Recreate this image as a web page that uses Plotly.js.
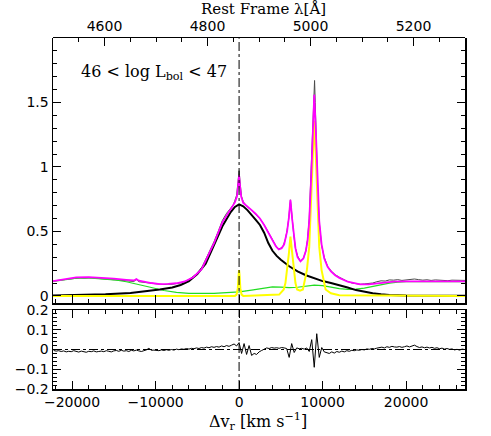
<!DOCTYPE html>
<html>
<head>
<meta charset="utf-8">
<script src="https://cdn.plot.ly/plotly-3.0.1.min.js"></script>
<style>body{margin:0;background:#fff}#plot{width:491px;height:436px}</style>
</head>
<body>
<div id="plot"></div>
<script>
// observed spectrum (velocity km/s, flux)
var obsV = [-22282,-22000,-21500,-21000,-20500,-20000,-19500,-19000,-18500,-18000,-17500,-17000,-16500,-16000,-15500,-15000,-14500,-14000,-13500,-13000,
  -12600,-12300,-12000,-11500,-11000,-10500,-10000,-9500,-9000,-8500,-8000,-7500,-7000,-6500,-6000,-5500,-5000,-4500,-4000,-3500,
  -3000,-2500,-2000,-1500,-1000,-700,-500,-300,-150,0,150,300,500,700,1000,1300,1600,2000,2300,2600,
  3000,3300,3600,4000,4400,4700,5000,5300,5550,5750,5950,6080,6150,6250,6400,6550,6750,7000,7350,7700,
  8000,8200,8400,8640,8820,8960,9040,9120,9250,9400,9600,9880,10200,10600,11000,11500,12000,12500,13000,13500,
  14000,14500,15000,15500,16000,16500,17000,17500,18000,18500,19000,19500,20000,20500,21000,21500,22000,22500,23000,23500,
  24000,24500,25000,25500,26000,26500,27053];
var obsF = [0.112,0.118,0.122,0.126,0.13,0.134,0.137,0.14,0.138,0.142,0.139,0.136,0.133,0.134,0.127,0.125,0.121,0.12,0.116,0.114,
  0.112,0.127,0.11,0.106,0.104,0.098,0.094,0.089,0.088,0.091,0.09,0.096,0.101,0.112,0.127,0.15,0.178,0.215,0.28,0.345,
  0.42,0.5,0.585,0.64,0.685,0.705,0.74,0.78,0.87,0.97,0.86,0.77,0.73,0.71,0.69,0.675,0.655,0.625,0.61,0.59,
  0.552,0.515,0.48,0.432,0.39,0.365,0.37,0.39,0.44,0.51,0.6,0.7,0.745,0.68,0.56,0.47,0.37,0.31,0.27,0.29,
  0.35,0.44,0.6,0.98,1.35,1.6,1.67,1.5,1.18,0.86,0.57,0.39,0.3,0.23,0.195,0.165,0.145,0.127,0.112,0.1,
  0.093,0.09,0.093,0.097,0.1,0.11,0.117,0.115,0.124,0.122,0.126,0.12,0.124,0.126,0.131,0.126,0.122,0.125,0.12,0.124,
  0.122,0.125,0.118,0.122,0.12,0.123,0.12];

// total model
var magV = [-22282,-21000,-19500,-18000,-16500,-15000,-13500,-12600,-12300,-12000,-10500,-9500,-8500,-7500,-6500,-5500,-4500,-4000,-3000,-2000,
  -1500,-1000,-500,-250,-100,0,100,250,500,1000,1500,2000,2500,3000,3500,4000,4400,4750,5100,5400,
  5750,5950,6150,6350,6550,6750,7000,7350,7700,8000,8200,8400,8640,8820,9000,9180,9360,9600,9880,10200,
  10600,11000,11500,12000,13000,14000,14500,15500,16500,17500,18500,20000,22000,24000,27053];
var magF = [0.115,0.13,0.143,0.146,0.141,0.134,0.125,0.12,0.13,0.118,0.1,0.092,0.093,0.098,0.112,0.145,0.205,0.27,0.41,0.57,
  0.625,0.67,0.725,0.77,0.86,0.935,0.86,0.77,0.72,0.695,0.665,0.635,0.6,0.55,0.49,0.43,0.385,0.36,0.37,0.4,
  0.5,0.6,0.745,0.6,0.46,0.37,0.3,0.268,0.29,0.35,0.43,0.58,0.93,1.3,1.56,1.3,0.93,0.58,0.4,0.29,
  0.225,0.19,0.16,0.14,0.11,0.095,0.09,0.09,0.096,0.104,0.11,0.113,0.113,0.112,0.112];

// broad Hbeta component
var broadV = [-22282,-19000,-16000,-13000,-11000,-9500,-8000,-7000,-6000,-5000,-4000,-3000,-2000,-1000,-500,0,500,1000,1500,2000,
  2500,3000,3500,4000,4500,5000,6000,7000,8000,9000,10000,11000,12000,13000,14000,15000,16000,17000,18000,20000,
  23000,27053];
var broadF = [0.003,0.006,0.012,0.022,0.035,0.05,0.065,0.085,0.115,0.17,0.25,0.39,0.54,0.65,0.69,0.71,0.695,0.665,0.63,0.59,
  0.55,0.49,0.41,0.35,0.31,0.28,0.23,0.19,0.16,0.135,0.115,0.1,0.085,0.065,0.045,0.03,0.02,0.013,0.008,0.004,
  0.002,0.001];

// narrow lines: Hbeta, [OIII] 4959, 5007
var yelV = [-22282,-500,-300,-150,-60,0,60,150,300,500,
  4800,5350,5550,5750,5950,6150,6350,6550,6750,6950,7300,
  7640,8120,8400,8640,8820,9000,9180,9360,9600,9880,10360,11000,12000,27053];
var yelF = [0,0,0.01,0.06,0.16,0.2,0.16,0.06,0.01,0,
  0.01,0.05,0.1,0.2,0.32,0.46,0.32,0.2,0.1,0.05,0.04,
  0.05,0.2,0.38,0.74,1.1,1.36,1.1,0.74,0.38,0.2,0.05,0.02,0.005,0];

// FeII template
var grnV = [-22282,-21000,-19500,-18000,-16500,-15000,-13500,-12000,-10500,-9000,-7500,-6000,-4500,-3000,-1500,0,1500,3000,4000,5000,
  6000,7000,8000,9000,10000,11000,12000,13000,14000,15000,16000,17000,18000,19000,20000,22000,24000,27053];
var grnF = [0.112,0.126,0.137,0.14,0.135,0.125,0.11,0.09,0.065,0.042,0.027,0.02,0.018,0.02,0.025,0.032,0.045,0.063,0.07,0.068,
  0.064,0.067,0.076,0.084,0.08,0.068,0.056,0.05,0.052,0.06,0.074,0.088,0.099,0.106,0.11,0.111,0.11,0.11];

// residuals, every 300 km/s from -22200
var resid = [-0.005,-0.008,-0.006,-0.010,-0.007,-0.012,-0.009,-0.011,-0.006,-0.010,
  -0.013,-0.008,-0.010,-0.014,-0.009,-0.011,-0.007,-0.012,-0.010,-0.008,
  -0.011,-0.006,-0.009,-0.012,-0.007,-0.005,-0.009,-0.004,-0.008,-0.006,
  -0.010,-0.004,-0.007,-0.003,-0.007,-0.010,-0.006,-0.002,0.006,-0.004,-0.003,
  -0.004,-0.006,-0.002,-0.005,-0.001,-0.004,0.000,-0.003,0.002,-0.001,
  0.003,0.001,0.005,0.002,0.006,0.004,0.008,0.005,0.010,0.007,
  0.012,0.009,0.014,0.011,
  0.015,0.012,0.018,0.014,0.020,0.016,0.022,0.028,0.018,0.035,
  -0.02,0.03,-0.025,0.02,-0.03,-0.02,-0.025,-0.012,-0.005,0.002,
  0.008,0.005,0.010,0.007,0.009,0.006,0.010,0.008,0.005,
  -0.04,0.03,-0.015,0.008,0.004,0.006,0.002,0.008,-0.01,0.05,-0.09,0.08,-0.04,0.01,-0.012,
  -0.015,-0.02,-0.012,-0.018,-0.010,-0.014,-0.008,-0.012,-0.006,-0.009,-0.004,
  -0.006,-0.002,-0.004,0.000,-0.002,0.003,0.001,0.005,0.003,0.007,
  0.009,0.012,0.008,0.014,0.011,0.016,0.013,0.012,0.015,0.011,
  0.014,0.018,0.013,0.017,0.022,0.015,0.010,0.013,0.009,0.012,
  0.008,0.011,0.006,0.009,0.004,0.007,0.002,0.005,0.001,0.003,
  -0.002,0.001,-0.003,0.002,0.000];

// axis ranges
var velRange = [-22282, 27053];
var lamRange = [4500, 5300];
var fluxRange = [-0.055, 2];
var resRange = [-0.2, 0.2];

var tickFont = {family: 'DejaVu Sans', size: 14, color: '#000'};
var serif = {family: 'DejaVu Serif', size: 15, color: '#000'};
var dashdot = {color: '#000', width: 1, dash: 'dashdot'};

function ax(o) {
  return Object.assign({
    ticks: 'inside', ticklen: 8, tickwidth: 1, tickcolor: '#000',
    showline: true, linecolor: '#000', linewidth: 1.5,
    showgrid: false, zeroline: false, tickfont: tickFont, tickformat: 'd',
    layer: 'above traces'
  }, o);
}
function minor(d) {
  return {dtick: d, ticklen: 4, ticks: 'inside', tickcolor: '#000', tickwidth: 1, showgrid: false};
}

var data = [
  {x: obsV, y: obsF, xaxis: 'x2', yaxis: 'y', mode: 'lines', line: {color: '#4a4a4a', width: 1}},
  {x: grnV, y: grnF, xaxis: 'x2', yaxis: 'y', mode: 'lines', line: {color: '#22dd22', width: 1.2}},
  {x: broadV, y: broadF, xaxis: 'x2', yaxis: 'y', mode: 'lines', line: {color: '#000', width: 2}},
  {x: yelV, y: yelF, xaxis: 'x2', yaxis: 'y', mode: 'lines', line: {color: '#ffff00', width: 2}},
  {x: magV, y: magF, xaxis: 'x2', yaxis: 'y', mode: 'lines', line: {color: '#ff00ff', width: 1.8}},
  {y: resid, x0: -22200, dx: 300, xaxis: 'x', yaxis: 'y2', mode: 'lines', line: {color: '#000', width: 1}},
  // dash-dot reference lines at zero velocity / zero residual
  {x: [0, 0], y: fluxRange, xaxis: 'x2', yaxis: 'y', mode: 'lines', line: dashdot},
  {x: [0, 0], y: resRange, xaxis: 'x', yaxis: 'y2', mode: 'lines', line: dashdot},
  {x: velRange, y: [0, 0], xaxis: 'x', yaxis: 'y2', mode: 'lines', line: dashdot},
  // empty trace on a thin strip at the top, which carries the wavelength axis
  {x: lamRange, y: [null, null], xaxis: 'x3', yaxis: 'y3', mode: 'lines', hoverinfo: 'skip'}
];

var notes = [
  {xref: 'paper', yref: 'paper', x: 0.063, y: 0.903, xanchor: 'left', yanchor: 'middle', showarrow: false,
   text: '46 &lt; log L<sub>bol</sub> &lt; 47', font: {family: 'DejaVu Serif', size: 16, color: '#000'}},
  {xref: 'paper', yref: 'paper', x: 0.512, y: 1.083, xanchor: 'center', yanchor: 'middle', showarrow: false,
   text: 'Rest Frame λ[Å]', font: serif},
  {xref: 'paper', yref: 'paper', x: 0.4976, y: -0.093, xanchor: 'center', yanchor: 'middle', showarrow: false,
   text: 'Δv<sub>r</sub> [km s<sup>−1</sup>]', font: {family: 'DejaVu Serif', size: 16, color: '#000'}}
];

var layout = {
  width: 491, height: 436, autosize: false,
  margin: {l: 53, r: 26, t: 38, b: 47},
  paper_bgcolor: '#fff', plot_bgcolor: 'rgba(0,0,0,0)',
  showlegend: false,
  xaxis: ax({domain: [0, 1], anchor: 'y2', range: velRange, dtick: 10000, tick0: 0, mirror: 'allticks', minor: minor(2000)}),
  xaxis2: ax({domain: [0, 1], anchor: 'y', range: velRange, dtick: 10000, tick0: 0, showticklabels: false, minor: minor(2000)}),
  xaxis3: ax({domain: [0, 1], anchor: 'y3', side: 'top', range: lamRange, dtick: 200, tick0: 4600, minor: minor(50)}),
  yaxis: ax({domain: [0.245, 0.999], anchor: 'x2', range: [-0.055, 1.9965], dtick: 0.5, tick0: 0, tickformat: '', mirror: 'allticks', minor: minor(0.1)}),
  yaxis2: ax({domain: [0, 0.225], anchor: 'x', range: resRange, dtick: 0.1, tick0: 0, tickformat: '', mirror: 'allticks', minor: minor(0.02)}),
  yaxis3: {domain: [0.999, 1], anchor: 'x3', range: [0, 1], visible: false, showgrid: false, zeroline: false}
};

Plotly.newPlot('plot', data, layout, {displayModeBar: false, staticPlot: true}).then(function (gd) {
  return Plotly.relayout(gd, {annotations: notes});
});
</script>
</body>
</html>
